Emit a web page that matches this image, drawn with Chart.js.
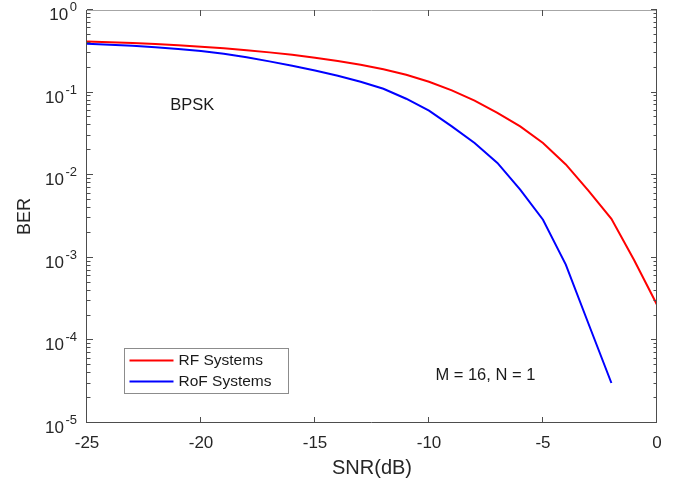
<!DOCTYPE html>
<html>
<head>
<meta charset="utf-8">
<script src="https://cdn.jsdelivr.net/npm/chart.js@4/dist/chart.umd.min.js"></script>
<style>
  html, body { margin: 0; padding: 0; background: #fff; }
  #wrap { width: 678px; height: 487px; }
</style>
</head>
<body>
<div id="wrap"><canvas id="berChart" width="678" height="487"></canvas></div>
<script>
/* dados (SNR em dB, BER) */
const snr = [-25,-24,-23,-22,-21,-20,-19,-18,-17,-16,-15,-14,-13,-12,-11,-10,-9,-8,-7,-6,-5,-4,-3,-2,-1,0];
const berRF = [0.4169,0.4083,0.3981,0.3864,0.3733,0.3589,0.3436,0.3266,0.3069,0.2864,0.2649,0.2415,0.2173,0.1919,0.1641,0.1352,0.1064,0.0798,0.0569,0.0390,0.0245,0.0135,0.00646,0.00297,0.000933,0.00027];
const snrRoF = [-25,-24,-23,-22,-21,-20,-19,-18,-17,-16,-15,-14,-13,-12,-11,-10,-9,-8,-7,-6,-5,-4,-3,-2];
const berRoF = [0.3908,0.3802,0.3681,0.3540,0.3381,0.3184,0.2944,0.2673,0.2388,0.2113,0.1849,0.1600,0.1352,0.1112,0.0843,0.0604,0.0390,0.0245,0.0141,0.00667,0.00289,0.000826,0.000158,0.0000305];

/* ticks */
const xTicks = [-25,-20,-15,-10,-5,0];
const yExps = [0,-1,-2,-3,-4,-5];

const seriesNames = ['RF Systems', 'RoF Systems'];
const seriesColors = ['#ff0000', '#0000ff'];

const FONT = '"Liberation Sans", Arial, sans-serif';
const AXIS = '#4d4d4d';
const TXT = '#262626';

function pts(xs, ys) { return xs.map((x, i) => ({ x: x, y: ys[i] })); }

/* eixos estilo MATLAB: caixa, ticks para dentro, rótulos 10^n, legenda e anotações */
const matlabAxes = {
  id: 'matlabAxes',
  afterDraw(chart) {
    const { ctx, chartArea: a } = chart;
    const xs = chart.scales.x, ys = chart.scales.y;
    ctx.save();

    // caixa
    ctx.lineWidth = 1;
    ctx.strokeStyle = AXIS;
    ctx.beginPath();
    ctx.moveTo(a.left - 0.5, a.top + 0.5);
    ctx.lineTo(a.left - 0.5, a.bottom - 0.5);
    ctx.lineTo(a.right - 0.5, a.bottom - 0.5);
    ctx.lineTo(a.right - 0.5, a.top + 0.5);
    ctx.stroke();
    ctx.strokeStyle = '#a6a6a6';
    ctx.beginPath();
    ctx.moveTo(a.left - 0.5, a.top + 0.5);
    ctx.lineTo(a.right - 0.5, a.top + 0.5);
    ctx.stroke();

    // ticks x (baixo e topo)
    ctx.strokeStyle = AXIS;
    ctx.beginPath();
    xTicks.forEach(v => {
      const px = Math.round(xs.getPixelForValue(v)) - 0.5;
      ctx.moveTo(px, a.bottom); ctx.lineTo(px, a.bottom - 6);
      ctx.moveTo(px, a.top); ctx.lineTo(px, a.top + 6);
    });
    // ticks y maiores e menores (esquerda e direita)
    yExps.forEach(e => {
      const py = Math.round(ys.getPixelForValue(Math.pow(10, e))) - 0.5;
      ctx.moveTo(a.left, py); ctx.lineTo(a.left + 6, py);
      ctx.moveTo(a.right, py); ctx.lineTo(a.right - 6, py);
      if (e < 0) {
        for (let m = 2; m <= 9; m++) {
          const my = Math.round(ys.getPixelForValue(m * Math.pow(10, e))) - 0.5;
          ctx.moveTo(a.left, my); ctx.lineTo(a.left + 3.5, my);
          ctx.moveTo(a.right, my); ctx.lineTo(a.right - 3.5, my);
        }
      }
    });
    ctx.stroke();

    // rótulos y: 10 com expoente
    ctx.fillStyle = TXT;
    ctx.textBaseline = 'alphabetic';
    ctx.textAlign = 'right';
    const rx = a.left - 10;
    yExps.forEach(e => {
      const py = ys.getPixelForValue(Math.pow(10, e));
      const ex = String(e);
      ctx.font = '13px ' + FONT;
      const ew = ctx.measureText(ex).width;
      ctx.fillText(ex, rx, py + 1);
      ctx.font = '17px ' + FONT;
      ctx.fillText('10', rx - ew - 1.5, py + 10);
    });

    // anotações
    ctx.textAlign = 'left';
    ctx.textBaseline = 'middle';
    ctx.font = '16.5px ' + FONT;
    ctx.fillStyle = '#1a1a1a';
    ctx.fillText('BPSK', xs.getPixelForValue(-21.35), ys.getPixelForValue(Math.pow(10, -1.159)));
    ctx.fillText('M = 16, N = 1', xs.getPixelForValue(-9.72), ys.getPixelForValue(Math.pow(10, -4.427)));

    // legenda
    const bx = a.left + 36.5, bw = 164, bh = 45, by = a.bottom - 30 - bh;
    ctx.fillStyle = '#fff';
    ctx.fillRect(bx, by, bw, bh);
    ctx.strokeStyle = '#8c8c8c';
    ctx.strokeRect(Math.round(bx) + 0.5, Math.round(by) + 0.5, bw, bh);
    ctx.font = '15.5px ' + FONT;
    chart.data.datasets.forEach((ds, i) => {
      const ly = by + 12.5 + i * 21;
      ctx.strokeStyle = ds.borderColor;
      ctx.lineWidth = 2.2;
      ctx.beginPath();
      ctx.moveTo(bx + 6, ly); ctx.lineTo(bx + 50, ly);
      ctx.stroke();
      ctx.fillStyle = '#1a1a1a';
      ctx.fillText(ds.label, bx + 55, ly + 0.5);
    });
    ctx.restore();
  }
};

const ctx = document.getElementById('berChart').getContext('2d');
const berChart = new Chart(ctx, {
  type: 'line',
  data: {
    datasets: [
      { label: seriesNames[0], data: pts(snr, berRF), borderColor: seriesColors[0], borderWidth: 2, pointRadius: 0, tension: 0, fill: false },
      { label: seriesNames[1], data: pts(snrRoF, berRoF), borderColor: seriesColors[1], borderWidth: 2, pointRadius: 0, tension: 0, fill: false }
    ]
  },
  options: {
    responsive: false,
    animation: false,
    layout: { padding: { top: 10, right: 21, left: 0, bottom: 0 } },
    plugins: { legend: { display: false }, tooltip: { enabled: false } },
    scales: {
      x: {
        type: 'linear', min: -25, max: 0,
        afterBuildTicks: s => { s.ticks = xTicks.map(v => ({ value: v })); },
        afterFit: s => { s.height = 64; },
        grid: { display: false }, border: { display: false },
        ticks: { color: TXT, font: { family: FONT, size: 17 }, padding: 2, maxRotation: 0 },
        title: { display: true, text: 'SNR(dB)', color: TXT, font: { family: FONT, size: 20 }, padding: { top: 0, bottom: 7 } }
      },
      y: {
        type: 'logarithmic', min: 1e-5, max: 1,
        afterFit: s => { s.width = 87; },
        grid: { display: false }, border: { display: false },
        ticks: { display: false },
        title: { display: true, text: 'BER', color: TXT, font: { family: FONT, size: 18 }, padding: { top: 14, bottom: 0 } }
      }
    }
  },
  plugins: [matlabAxes]
});
</script>
</body>
</html>
